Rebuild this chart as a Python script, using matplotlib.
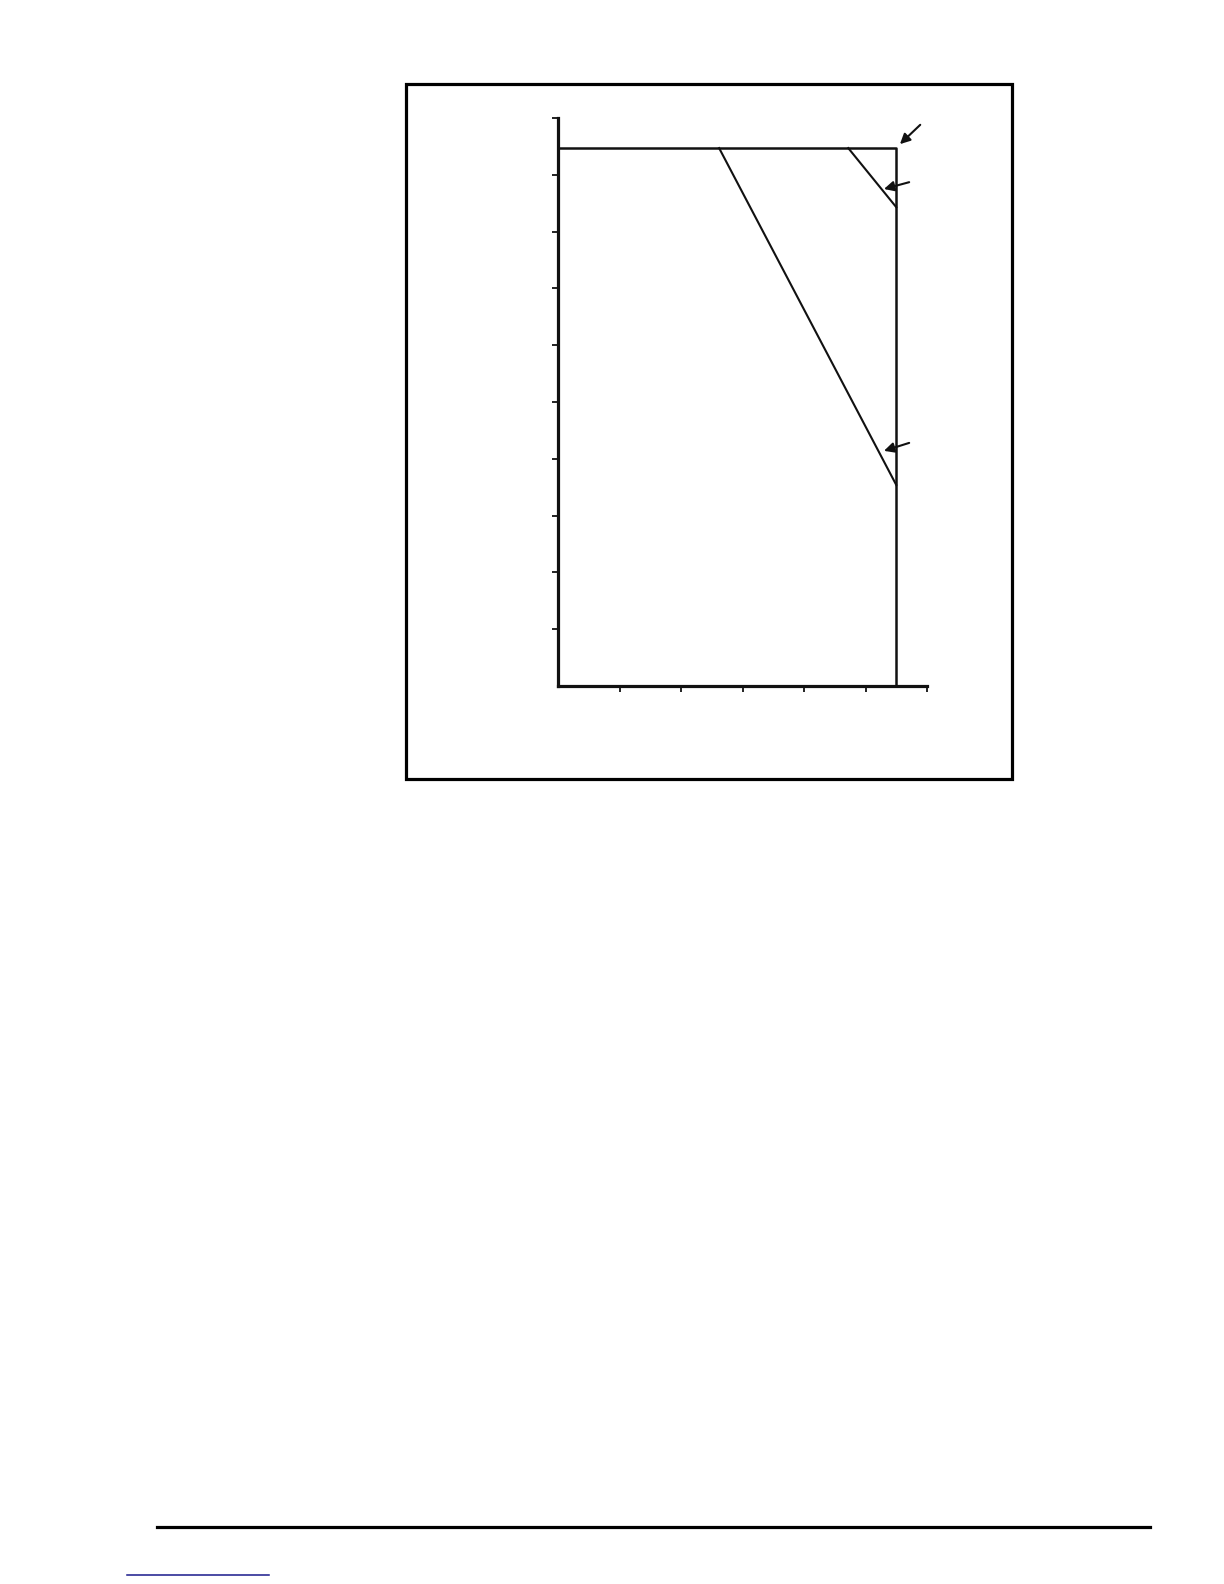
import matplotlib.pyplot as plt
from matplotlib.patches import Rectangle
from matplotlib.lines import Line2D

# Data (axis units: x 0..6, y 0..10)
limit_x = [0, 5.5, 5.5]
limit_y = [9.47, 9.47, 0]
curve_a_x = [2.62, 5.5]
curve_a_y = [9.47, 3.54]
curve_b_x = [4.72, 5.5]
curve_b_y = [9.47, 8.43]

x_ticks = [1, 2, 3, 4, 5, 6]
y_ticks = [1, 2, 3, 4, 5, 6, 7, 8, 9, 10]

# arrow (tip, tail) pairs
arrows = [
    ((5.56, 9.54), (5.89, 9.88)),
    ((5.30, 8.75), (5.71, 8.87)),
    ((5.30, 4.14), (5.71, 4.28)),
]

W, H = 1224, 1584
fig = plt.figure(figsize=(W / 100, H / 100), dpi=100)

ax = fig.add_axes([558 / W, 1 - 686 / H, (927 - 558) / W, (686 - 118) / H])
ax.plot(limit_x, limit_y, color="#111111", lw=1.8, solid_capstyle="butt")
ax.plot(curve_a_x, curve_a_y, color="#111111", lw=1.5)
ax.plot(curve_b_x, curve_b_y, color="#111111", lw=1.5)

for tip, tail in arrows:
    ax.annotate("", xy=tip, xytext=tail,
                arrowprops=dict(arrowstyle="-|>", color="#111111", lw=1.5,
                                mutation_scale=15, shrinkA=0, shrinkB=0))

ax.set_xlim(0, 6)
ax.set_ylim(0, 10)
ax.set_xticks(x_ticks)
ax.set_yticks(y_ticks)
ax.set_xticklabels([])
ax.set_yticklabels([])
ax.tick_params(direction="out", length=4, width=1.3, color="#111111")
for s in ["top", "right"]:
    ax.spines[s].set_visible(False)
for s in ["left", "bottom"]:
    ax.spines[s].set_linewidth(2.3)
    ax.spines[s].set_color("#111111")
    ax.spines[s].set_capstyle("projecting")
ax.patch.set_alpha(0)

# outer frame
fig.patches.append(Rectangle((406 / W, 1 - 779 / H), (1012 - 406) / W, (779 - 84) / H,
                             transform=fig.transFigure, fill=False,
                             edgecolor="black", lw=2.3))

# page rules
fig.lines.append(Line2D([157 / W, 1150 / W], [1 - 1527 / H] * 2,
                        transform=fig.transFigure, color="black", lw=2.3))
fig.lines.append(Line2D([127 / W, 269 / W], [1 - 1575 / H] * 2,
                        transform=fig.transFigure, color="#1a1a8c", lw=1.1))

fig.savefig("out.png", dpi=100)
